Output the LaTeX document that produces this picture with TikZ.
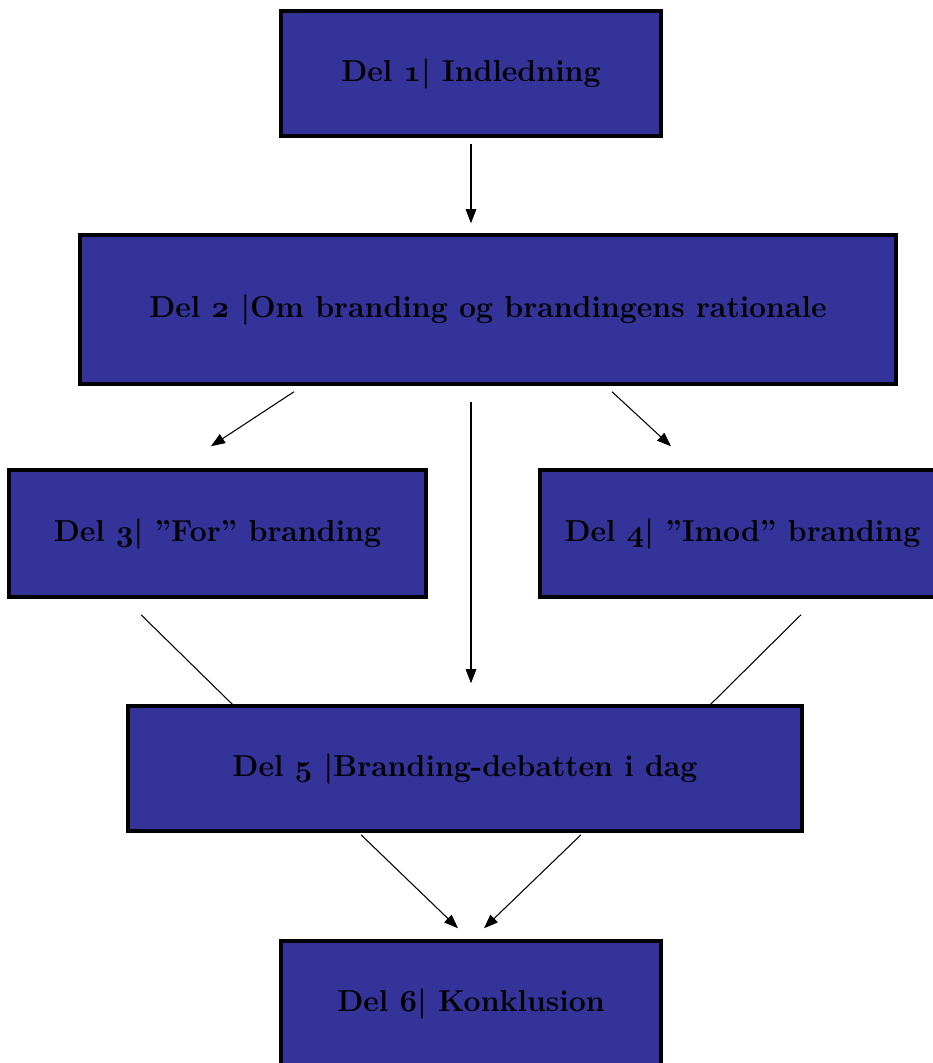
\documentclass[tikz,border=0pt]{standalone}
\usepackage{xcolor}
\usepackage{tikz}
\usetikzlibrary{positioning,calc,arrows.meta}

\definecolor{delblue}{RGB}{51,51,153}
\newcommand{\osn}[1]{{\usefont{OML}{cmm}{b}{it}#1}}

\begin{document}
\begin{tikzpicture}[x=0.02cm,y=-0.02cm,
	delbox/.style={draw=black,line width=2pt,fill=delblue,inner sep=0pt,
		minimum height=2.5cm,font=\fontsize{17.2pt}{20pt}\selectfont\bfseries},
	pil/.style={line width=0.6pt,-{Triangle[length=8pt,width=6pt]}},
	streg/.style={line width=0.6pt}]
	\useasboundingbox (0,0) rectangle (933,1063);
	\clip (0,0) rectangle (933,1063);
	
	% boxes
	\node[delbox,minimum width=7.6cm] (del1) at (471,73.5) {Del \osn{1}| Indledning};
	\node[delbox,minimum width=16.32cm,minimum height=2.98cm] (del2) at (488,309.5) {Del \osn{2} |Om branding og brandingens rationale};
	\node[delbox,minimum width=8.34cm,minimum height=2.54cm] (del3) at (217.5,533.5) {Del \osn{3}| ”For” branding};
	\node[delbox,minimum width=8.1cm,minimum height=2.54cm] (del4) at (742.5,533.5) {Del \osn{4}| ”Imod” branding};
	\node[delbox,minimum width=13.48cm] (del5) at (465,768.5) {Del \osn{5} |Branding-debatten i dag};
	\node[delbox,minimum width=7.6cm] (del6) at (471,1003.5) {Del \osn{6}| Konklusion};
	
	% arrows
	\draw[pil] ($(del1.south)+(0,6)$) -- ($(del2.north)+(-17,-10)$);
	\draw[pil] ($(del2.south)+(-194,6)$) -- ($(del3.north)+(-6.5,-22)$);
	\draw[pil] ($(del2.south)+(124,6)$) -- ($(del4.north)+(-71.5,-22)$);
	\draw[pil] ($(del2.south)+(-17,16)$) -- ($(del5.north)+(6,-21)$);
	
	% plain lines into del 5
	\draw[streg] ($(del3.south)+(-76.5,16)$) -- ($(del5.north west)+(106,0)$);
	\draw[streg] ($(del4.south)+(58.5,16)$) -- ($(del5.north east)+(-93,0)$);
	
	\draw[pil] ($(del5.south)+(-104,2)$) -- ($(del6.north)+(-13,-11)$);
	\draw[pil] ($(del5.south)+(116,2)$) -- ($(del6.north)+(13,-11)$);
\end{tikzpicture}
\end{document}
